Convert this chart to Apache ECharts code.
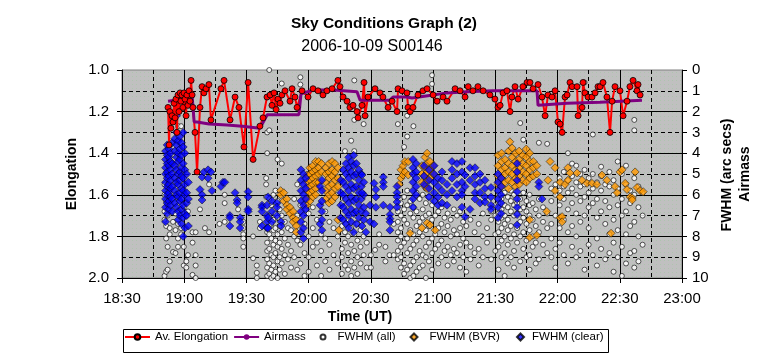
<!DOCTYPE html>
<html><head><meta charset="utf-8">
<script src="https://cdn.jsdelivr.net/npm/echarts@6/dist/echarts.min.js"></script>
<style>html,body{margin:0;padding:0;background:#fff}#c{width:764px;height:358px}</style>
</head><body><div id="c"></div>
<script>
// x values are minutes after 18:30 UT
const timeLabels = ['18:30','19:00','19:30','20:00','20:30','21:00','21:30','22:00','22:30','23:00'];
const elongTicks = ['1.0','1.2','1.4','1.6','1.8','2.0'];

const elongation = [[22.2,1.18],[22.7,1.36],[23.1,1.20],[23.6,1.28],[24.1,1.22],[24.6,1.25],[25.1,1.16],[25.6,1.23],[26.0,1.14],[26.5,1.30],[27.0,1.12],[27.5,1.20],[28.0,1.11],[28.4,1.15],[28.9,1.12],[29.4,1.18],[29.9,1.11],[30.4,1.14],[30.9,1.22],[31.3,1.12],[31.8,1.17],[32.3,1.10],[32.8,1.15],[33.3,1.05],[33.8,1.12],[34.2,1.18],[35.2,1.30],[36.2,1.49],[37.6,1.18],[38.6,1.08],[39.5,1.11],[40.5,1.09],[41.9,1.07],[42.9,1.24],[47.7,1.09],[49.2,1.05],[52.1,1.24],[54.5,1.13],[56.4,1.18],[58.8,1.37],[60.8,1.06],[63.2,1.43],[66.5,1.27],[68.0,1.23],[69.9,1.13],[71.4,1.12],[72.3,1.17],[73.3,1.11],[74.3,1.19],[75.2,1.14],[76.2,1.16],[77.1,1.12],[78.6,1.10],[81.0,1.15],[82.0,1.09],[83.4,1.13],[84.4,1.18],[86.8,1.10],[89.7,1.13],[92.1,1.09],[94.5,1.10],[96.9,1.12],[98.8,1.10],[101.3,1.09],[104.1,1.05],[105.1,1.08],[106.6,1.13],[108.5,1.15],[109.9,1.18],[111.4,1.17],[113.3,1.20],[113.8,1.23],[115.7,1.17],[116.7,1.06],[117.2,1.22],[118.6,1.13],[122.0,1.09],[124.4,1.11],[125.8,1.13],[128.3,1.18],[130.2,1.15],[132.6,1.20],[133.1,1.09],[135.0,1.10],[137.4,1.11],[137.9,1.18],[138.9,1.20],[140.3,1.18],[142.7,1.12],[145.1,1.10],[147.1,1.09],[150.0,1.12],[151.9,1.15],[154.8,1.13],[156.7,1.15],[160.6,1.09],[163.0,1.10],[165.4,1.13],[166.9,1.08],[169.2,1.10],[171.6,1.08],[174.1,1.10],[177.4,1.12],[179.8,1.14],[181.3,1.18],[182.3,1.17],[183.7,1.11],[185.6,1.10],[187.1,1.20],[188.0,1.13],[189.5,1.08],[191.0,1.14],[193.3,1.08],[195.3,1.06],[196.7,1.06],[198.2,1.09],[200.6,1.07],[202.5,1.13],[204.0,1.22],[205.4,1.12],[207.3,1.13],[208.8,1.10],[210.2,1.25],[211.2,1.26],[212.2,1.30],[213.6,1.13],[214.6,1.12],[216.0,1.06],[217.0,1.08],[219.4,1.08],[219.9,1.22],[221.8,1.18],[222.3,1.06],[223.2,1.11],[224.7,1.13],[226.6,1.13],[228.1,1.11],[229.5,1.08],[230.5,1.08],[231.9,1.06],[233.8,1.13],[235.3,1.30],[236.3,1.15],[237.7,1.08],[240.1,1.10],[241.6,1.22],[243.5,1.15],[244.9,1.08],[246.4,1.05],[248.3,1.10],[248.8,1.07],[249.8,1.12]];

const airmass = [[22.2,1.5],[25.6,1.45],[28,1.2],[31.8,1.15],[33.8,1.25],[34.8,2.5],[36.2,2.5],[42,2.6],[50.6,2.65],[58,2.7],[66.5,2.8],[70,2.15],[85.3,2.15],[86.3,1.15],[92.1,0.96],[102,0.96],[113.3,1.05],[114.8,1.45],[129.2,1.45],[130.7,1.3],[137.4,1.3],[139.8,1.35],[150,1.2],[156.7,1.1],[166.3,1.05],[178.9,1.0],[200.1,1.0],[200.6,1.7],[214.6,1.6],[230.5,1.55],[250.7,1.45]];

// each row: [minute, value, value, ...]
const fwhmAllCols = [
[20.5,5.5,6.0,6.8,7.2,9.9],[21.3,6.3,7.5,8.1,9.7],[22,5.8,6.5,7.0,8.5,9.6],[23,7.6,7.9,9.2],[24.6,7.3,8.75],[25.8,6.9,7.7,8.8],[27,2.7,7.4,8.1,8.5],[28.5,2.7,7.6,7.9],[29.8,6.6,8.5,9.4],[31,7.0,9.2,9.5],[31.8,6.8,8.9],[34,7.8,8.3,9.85],[35.5,7.8,8.9,9.4,10],[37.6,6.7],[40,7.6],[42,5.5,7.8],[47,7.4],[49.5,6.0,6.4,7.3],[56,6.7],[58.5,7.3,7.6,7.9,8.1,8.5],[63.2,8.0,9.05],[65,9.4,9.75,10],[66.5,7.3,7.6],[69.5,5.2,5.5,6.1],
[70,7.8,8.3,8.7,9.1,9.5,9.9,4.0,3.0],[71,6.2,7.0,7.9,8.6,9.3,9.8,0.0,2.9],[72,6.5,7.4,8.1,8.9,9.6,10.0],[73,6.0,7.2,7.7,8.4,9.0,9.4,9.9],[74,5.8,6.9,7.6,8.2,8.8,9.7],[75,6.3,7.1,7.9,8.5,9.2,10.0,4.3],[76,6.7,7.5,8.3,9.0,9.6],[77,7.0,7.8,8.6,9.3,0.65,4.5],[78.5,7.3,8.1,8.9,9.8],[80,7.6,8.4,9.1],[81.5,7.7,8.7,9.5],[83,6.2,8.0,9.0],[84.5,7.0,8.2,9.6,5.5],[86,6.5,8.4,9.3,0.35,0.7],[88,7.4,8.8,9.9],[90,6.9,8.0,9.0,9.7],[92,6.6,7.6,8.5],[94,7.2,8.3,9.4],[96,7.9,8.7,9.9],[98,6.8,8.1,9.2],[100,7.3,8.4,9.6],[102,7.6,8.9],[104,8.0,9.3],
[106,6.4,7.5,8.6,9.0,9.8],[107.5,7.8,8.3,9.4,3.9],[109,7.2,8.0,8.8,9.6],[110.5,7.6,8.4,9.2,9.9,3.4],[112,7.9,8.7,9.5,2.4,3.9,0.5],[113.5,7.4,8.2,9.0,9.8],[115,7.7,8.5,9.3],[116.5,8.0,8.9,2.6],[118,8.3,9.5],[120,8.9,9.5],[122,8.65],[124,8.4,7.9],[127,8.5,9.2],[129,8.9],[131,8.9,7.4],
[133,6.8,7.3,7.8,8.2,8.7,9.1,2.6],[134.5,6.4,7.0,7.6,8.0,8.5,9.0,9.5],[136,6.1,6.7,7.2,8.3,9.3,9.8,3.7],[137.5,5.8,6.5,7.4,8.1,8.8,9.6,3.2,2.2],[139,6.3,6.9,7.7,8.6,9.4,10.0],[140.5,6.6,7.1,7.9,8.4,9.2,9.9,2.7],[142,5.9,6.8,7.5,8.2,9.0,9.7],[143.5,6.2,7.3,7.8,8.7,9.5],[145,6.0,6.7,7.1,8.0,8.9,9.4],[146.5,5.7,6.4,7.0,7.7,8.5,9.0,10.0],[148,6.1,6.9,7.5,8.3,9.2],[149.5,6.5,7.2,8.1,8.8,9.6,0.25,0.67],[151,6.3,7.0,7.9,8.6],[152.5,6.8,7.6,8.4,9.3],[154,6.6,7.4,8.2,9.0],[155.5,7.1,7.8,8.7],[157,6.9,7.5,8.5,9.4],[158.5,7.2,8.0,8.9],[160,6.7,7.7,8.6,9.2],[161.5,7.0,7.9,8.8],[163,6.8,7.6,8.4,9.5],[164.5,7.3,8.1,9.0],[166,7.5,8.3,9.7],[168,7.2,8.5,9.1],[170,7.8,8.8],[172,7.4,8.6,9.4],[174,6.9,8.0,9.0],[176,7.6,8.3],[178,6.8,7.2,9.1],
[180,6.5,7.0,7.9,8.7],[181.5,6.0,6.4,6.9,7.3,7.8,8.5,9.6],[183,6.2,6.7,7.1,7.6,8.2,9.0],[184.5,5.9,6.5,7.0,7.4,8.0,8.8,9.9],[186,6.1,6.6,7.2,7.7,8.4,9.3],[187.5,5.8,6.3,6.8,7.5,8.1,9.0],[189,6.0,6.5,7.0,7.9,8.7,9.5],[190.5,6.4,6.9,7.6,8.3],[192,6.2,6.7,7.3,8.0,9.2,2.55],[193.5,5.9,6.6,7.1,7.8,8.6,3.35],[195,6.3,6.8,7.4,8.2,9.0],[196.5,6.0,6.5,7.0,7.7,8.9,9.6],[198,6.4,7.2,8.0,8.5],[199.5,6.7,7.5,8.3,9.3],[201,6.2,7.0,7.8,9.1,3.5],[203,6.6,7.3,8.4],[205,6.9,7.6,8.8,3.55],
[207,5.7,6.3,7.4,8.1,9.0],[209,5.5,6.0,7.0,8.6,9.5],[211,5.2,5.8,6.5,7.6,8.3],[213,4.9,5.6,6.2,7.2,8.9],[215,4.0,5.3,5.9,6.7,7.8,9.3],[217,4.5,5.1,5.7,6.4,7.5,8.5],[219,4.6,5.4,6.0,6.9,8.0,9.0],[221,5.0,5.6,6.3,7.3,8.7],[223,4.8,5.5,6.1,7.0,9.6,0.6],[225,5.2,5.9,6.6,7.6,8.4],[227,3.1,5.0,5.7,6.4,8.9],[229,5.4,6.2,7.1,8.1,9.4],[231,4.65,5.1,5.8,6.8,8.6],[233,5.5,6.3,7.4,9.1],[235,4.9,5.6,6.6,7.9,8.8],[237,5.3,6.0,7.2,8.3,9.7],[239,4.4,5.7,6.5,7.7,9.0],[241,5.0,6.2,7.0,8.5,9.9],[243,4.6,5.5,6.8,7.9,9.3],[245,5.8,6.4,7.5,8.8],[247,2.4,2.9,5.2,6.0,7.3,8.7,9.5],[249,5.6,6.6,8.0,9.2],[251,5.9,7.0,8.4]
];

const fwhmBVRCols = [
[76.5,5.8,6.0],[78,5.9,6.3],[79.5,6.2,6.5,6.7],[81,6.6,6.9],[82.5,6.8,7.1,7.3],[84,7.2,7.5,7.8],
[89.2,5.05,5.4,5.8,6.2,6.5],[90.6,4.7,5.0,5.3,5.6,5.9,6.3],[92,4.6,4.9,5.2,5.5,5.8,6.1],[93.4,4.4,4.8,5.1,5.4,5.7,6.0],[94.8,4.4,4.7,5.0,5.4],[96.2,4.5,4.9],
[98.3,4.7,5.0,5.4,5.8,6.2],[99.8,4.5,4.9,5.2,5.6,6.0,6.4],[101.3,4.4,4.8,5.1,5.5,5.9,6.3],[102.7,4.5,4.9,5.3,5.7,6.1],[104.1,4.7,5.2,5.6,7.2],[104.6,7.7],
[133.6,5.5],[134.5,4.8,5.2],[135.5,4.6,5.05],[136.4,4.4,4.9],[138,4.4,5.05],[138.9,7.85],
[144.6,4.6,5.0,5.4,7.6],[146.1,4.2,4.7,5.1,5.6],[147.1,4.0,4.5,4.9,5.3,5.7,7.35],[148.5,4.4,4.8,5.2,7.45],[150,4.6,5.0],[151,7.7],
[181.3,4.1,4.6,5.1,5.5],[183,4.0,4.4,4.8,5.2,5.6],[184.7,4.3,4.7,5.0,5.4],[186.4,3.9,4.5,4.9,5.3,5.7],[187,3.45],[188.1,3.75,4.2,4.6,5.0,5.4],[189.8,4.0,4.4,4.8,5.2,5.6],[191.5,3.9,4.3,4.7,5.1,5.5],[193.2,4.1,4.5,4.9,5.3],[194.9,3.8,4.2,4.6,5.0,5.4],[196.6,4.0,4.4,4.8,5.2,7.2,8.05],[198.3,4.4,4.7,5.1],[200,4.6,5.0,7.95],
[204.8,6.8],[205.4,5.3],[206.4,4.4],[208.8,4.7,5.8],[211.2,5.4,6.1,7.1],[212.2,7.05,7.3],[213.6,5.5],[215,4.7,5.3],[216,4.95],[219.4,4.95],[221.8,5.3],[224.2,5.45],[226.6,5.45],[229,5.5],[231.4,5.05],[233.8,5.3],[235.8,7.85],[237.7,5.6],[238.7,5.9],[240.1,4.9],[241.1,4.8],[242.6,5.45],[243.5,5.75],[245,6.1],[246,6.15,6.25],[247.4,4.9],[248.3,5.65],[249.8,5.8],[251.3,5.85]
];

const fwhmClearCols = [
[21,3.9,4.3,4.7,5.0,5.4,5.8,6.2,6.6,7.3],[21.8,3.6,4.1,4.5,4.9,5.2,5.6,6.0,6.4,6.9],[22.6,3.8,4.2,4.6,5.1,5.5,5.9,6.3,6.7],[23.4,4.0,4.4,4.8,5.3,5.7,6.1,6.5],[24.2,3.5,4.5,5.0,5.6,6.2,6.8],[25.5,3.3,3.9,4.6,5.2,5.8,6.4],[26.3,2.2,3.0,3.6,4.2,4.8,5.4,6.0,6.6],[27.1,3.4,4.0,4.4,5.0,5.5,6.1,6.8,7.2],[27.9,3.2,3.8,4.3,4.9,5.3,5.9,6.3,7.0],[28.7,3.5,4.1,4.7,5.1,5.7,6.2,6.7,7.4],[29.5,3.0,3.7,4.5,5.2,5.8,6.5,7.1,8.0],[30.3,4.0,4.8,5.5,6.0,6.9,7.6],[31.2,5.0,5.9,6.4,7.0],[32.0,5.4,6.2,7.5],
[37.6,5.75],[38.6,5.15,6.0,6.25],[39.5,4.9],[41.5,4.8,5.2],[42.9,4.9],[43.4,5.8],[47.7,5.6],[48.7,5.4],[49.6,5.4],[52,7.0,7.1,7.5],[54.5,5.9],[55.5,6.25,6.4],[57,7.1,7.3,7.6],[60.8,5.85,6.1,6.7,6.8],
[67.5,6.5,6.6,6.8,7.5],[69.9,6.5,7.0,7.3,7.6],[70.4,6.1,7.1,7.6],[72.3,6.3,6.8,7.3],[74.7,6.4,6.6,7.0],[76.7,7.3,7.5],
[86.3,4.8,5.3,5.8,6.3,6.8,7.3,7.8],[87.5,5.0,5.5,6.0,6.5,7.0,7.6,8.1],[88.6,5.2,5.7,6.2,6.7],[95.5,5.6,6.5,7.4],[96.4,5.3,5.8,6.3,6.8,7.2,7.7],
[105.5,5.3,5.9,6.5,7.1],[106.7,4.8,5.4,6.0,6.6,7.2],[108,4.5,5.0,5.6,6.2,6.8,7.4],[109.3,4.2,4.7,5.2,5.8,6.4,7.0,7.6],[110.5,4.4,4.9,5.5,6.1,6.7,7.3],[111.7,4.1,4.6,5.1,5.7,6.3,6.9,7.8],[113,4.5,5.0,5.6,6.2,6.8,7.4],[114.2,4.8,5.3,5.9,6.5,7.1],[115.4,5.0,5.6,6.2,6.8],[116.6,5.4,6.0,6.6,7.2],[115.7,5.05,5.9,7.5],
[117.6,6.9,7.8],[119.6,6.5,7.3],[121.5,5.45,7.4],[122.4,5.75,6.1,6.6],[126,5.15,5.4,5.6,6.5],[129.2,6.6,6.95,7.15,7.3,7.7],[132.6,5.6,5.9,6.1,6.35,6.6],
[140.3,4.3,4.7,5.0,5.4,5.8,6.2,6.6],[141.8,4.5,4.9,5.2,5.6,6.0],[145.6,4.6,5.1,5.5],[148,4.8,5.3,5.7,6.1],[150.5,4.6,5.0,5.4,5.9,6.3],[152.4,5.2,5.6,6.1,6.5],[154.3,4.9,5.3,5.8,6.4],[156.7,5.5,6.0,6.5],[159.1,4.4,4.8,5.2,5.8],[161.5,4.5,5.0,5.5,6.1],[163.9,4.4,4.9,5.4,5.8,6.0,6.6],
[165.4,5.05,5.6,7.05],[167.8,4.7,5.3,6.7],[170.2,4.7,5.1,5.5,5.9,6.2],[172.6,5.0,5.4,5.9,6.4],[175,5.3,5.7,6.1,6.35],[177.9,5.65,6.1,6.5,6.7],[181.3,5.0,5.4,5.8,6.2,6.6,7.1],[182.8,5.2,5.6,6.0,6.4,6.9],[190.5,4.5,4.9,5.3,5.85,6.2,6.6,6.95,7.45],[201,5.4,5.6],[202.5,6.2]
];

const expand = cols => cols.flatMap(([t, ...vs]) => vs.map(v => [t, v]));
const FONT = '"Liberation Sans", Arial, sans-serif';

// plot background texture (grey with faint green speckles)
const pc = document.createElement('canvas'); pc.width = 4; pc.height = 4;
const g = pc.getContext('2d');
g.fillStyle = '#c0c0c0'; g.fillRect(0, 0, 4, 4);
g.fillStyle = '#aec4ae'; g.fillRect(0, 0, 1, 1);

const legendText = {color: '#000', fontSize: 11.5, fontFamily: FONT};
const markLegend = (name, left, size, pad) => ({data: [name], left: left, top: 331, orient: 'horizontal',
  itemWidth: size, itemHeight: size, padding: 0, selectedMode: false,
  textStyle: {color: '#000', fontSize: 11.5, fontFamily: FONT, padding: [0, 0, 0, pad]}});

const chart = echarts.init(document.getElementById('c'), null, {renderer: 'canvas'});
chart.setOption({
  animation: false,
  backgroundColor: '#fff',
  textStyle: {fontFamily: FONT},
  grid: {left: 122, right: 82, top: 70, bottom: 80, show: true,
    backgroundColor: {image: pc, repeat: 'repeat'}, borderColor: '#808080', borderWidth: 1},
  xAxis: {type: 'value', min: 0, max: 270, interval: 30,
    axisLine: {onZero: false, lineStyle: {color: '#000', width: 1}},
    axisTick: {show: true, inside: false, length: 5, lineStyle: {color: '#000'}},
    axisLabel: {color: '#000', fontSize: 15, fontFamily: FONT, margin: 13,
      formatter: v => timeLabels[Math.round(v / 30)]},
    splitLine: {show: true, showMinLine: false, showMaxLine: false, lineStyle: {color: '#000', width: 1}},
    minorTick: {show: false, splitNumber: 2},
    minorSplitLine: {show: true, lineStyle: {color: '#000', width: 1, type: [4, 3]}}},
  yAxis: [
    {type: 'value', min: 1, max: 2, interval: 0.2, inverse: true,
      axisLine: {show: true, onZero: false, lineStyle: {color: '#000'}},
      axisTick: {show: true, inside: false, length: 5, lineStyle: {color: '#000'}},
      axisLabel: {color: '#000', fontSize: 15, fontFamily: FONT, margin: 13,
        formatter: v => elongTicks[Math.round((v - 1) / 0.2)]},
      splitLine: {show: true, showMinLine: false, showMaxLine: false, lineStyle: {color: '#000', width: 1}},
      minorTick: {show: false, splitNumber: 2},
      minorSplitLine: {show: true, lineStyle: {color: '#000', width: 1, type: [4, 3]}}},
    {type: 'value', min: 0, max: 10, interval: 1, inverse: true, position: 'right',
      axisLine: {show: true, onZero: false, lineStyle: {color: '#000'}},
      axisTick: {show: true, inside: false, length: 5, lineStyle: {color: '#000'}},
      axisLabel: {color: '#000', fontSize: 15, fontFamily: FONT, margin: 10},
      splitLine: {show: false}}
  ],
  legend: [
    {data: ['Av. Elongation', 'Airmass'],
      left: 124, top: 331, orient: 'horizontal', itemGap: 5, itemWidth: 25, itemHeight: 7,
      padding: 0, selectedMode: false, textStyle: legendText},
    markLegend('FWHM (all)', 319.5, 5, 7),
    markLegend('FWHM (BVR)', 409.5, 7, 7),
    markLegend('FWHM (clear)', 516, 7, 3)
  ],
  graphic: [
    {type: 'rect', z: -1, shape: {x: 123.5, y: 329.5, width: 485, height: 23}, style: {fill: '#fff', stroke: '#000', lineWidth: 1}},
    {type: 'text', z: 100, style: {x: 384, y: 24, text: 'Sky Conditions Graph (2)', font: 'bold 15.5px ' + FONT, fill: '#000', textAlign: 'center', textVerticalAlign: 'middle'}},
    {type: 'text', z: 100, style: {x: 372, y: 47, text: '2006-10-09 S00146', font: '16px ' + FONT, fill: '#000', textAlign: 'center', textVerticalAlign: 'middle'}},
    {type: 'text', z: 100, style: {x: 360, y: 317, text: 'Time (UT)', font: 'bold 14px ' + FONT, fill: '#000', textAlign: 'center', textVerticalAlign: 'middle'}},
    {type: 'text', z: 100, x: 72, y: 174, rotation: Math.PI / 2, style: {x: 0, y: 0, text: 'Elongation', font: 'bold 14px ' + FONT, fill: '#000', textAlign: 'center', textVerticalAlign: 'middle'}},
    {type: 'text', z: 100, x: 727, y: 175, rotation: Math.PI / 2, style: {x: 0, y: 0, text: 'FWHM (arc secs)', font: 'bold 14px ' + FONT, fill: '#000', textAlign: 'center', textVerticalAlign: 'middle'}},
    {type: 'text', z: 100, x: 745, y: 174, rotation: Math.PI / 2, style: {x: 0, y: 0, text: 'Airmass', font: 'bold 14px ' + FONT, fill: '#000', textAlign: 'center', textVerticalAlign: 'middle'}}
  ],
  series: [
    {name: 'FWHM (all)', type: 'scatter', yAxisIndex: 1, data: expand(fwhmAllCols),
      symbol: 'circle', symbolSize: 5, itemStyle: {color: '#fff', borderColor: '#000', borderWidth: 0.8}},
    {name: 'FWHM (BVR)', type: 'scatter', yAxisIndex: 1, data: expand(fwhmBVRCols),
      symbol: 'diamond', symbolSize: 8, itemStyle: {color: '#ff9900', borderColor: '#000', borderWidth: 0.6}},
    {name: 'FWHM (clear)', type: 'scatter', yAxisIndex: 1, data: expand(fwhmClearCols),
      symbol: 'diamond', symbolSize: 8, itemStyle: {color: '#0000ff', borderColor: '#000', borderWidth: 0.6}},
    {name: 'Av. Elongation', type: 'line', yAxisIndex: 0, data: elongation,
      symbol: 'circle', symbolSize: 6, showSymbol: true, showAllSymbol: true,
      itemStyle: {color: '#ff0000', borderColor: '#000', borderWidth: 0.8},
      lineStyle: {color: '#ff0000', width: 2}},
    {name: 'Airmass', type: 'line', yAxisIndex: 1, data: airmass, symbol: 'none',
      lineStyle: {color: '#800080', width: 3}, itemStyle: {color: '#800080'}}
  ]
});
</script></body></html>
